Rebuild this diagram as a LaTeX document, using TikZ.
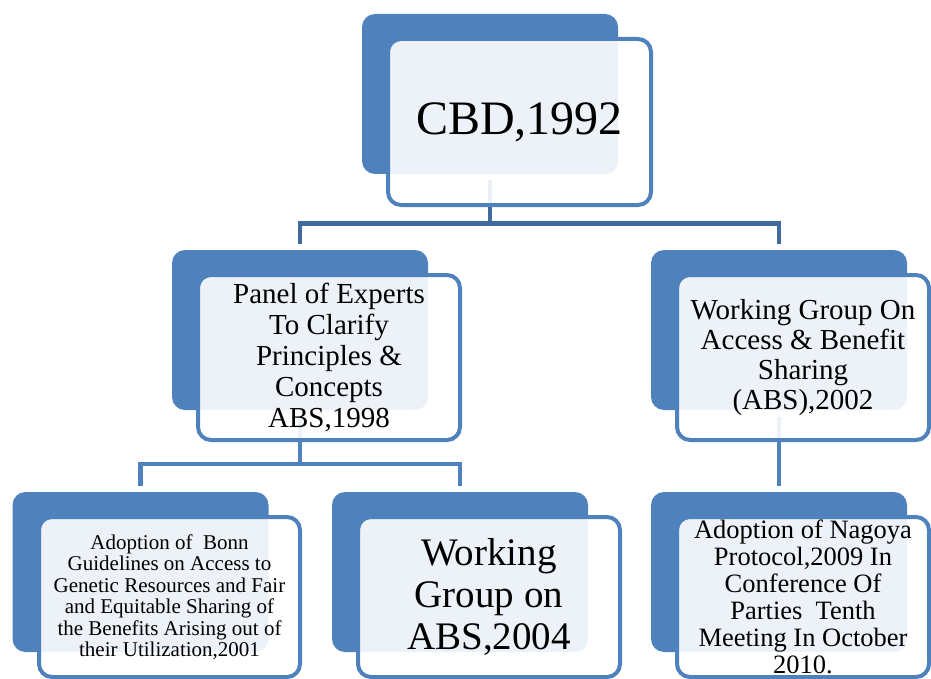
\documentclass[tikz,border=0pt]{standalone}
\usepackage{fontspec}
\setmainfont{Liberation Serif}
\definecolor{boxblue}{RGB}{79,129,189}
\definecolor{linkblue}{RGB}{65,106,157}

\begin{document}
\begin{tikzpicture}[x=1pt, y=-1pt,
        basebox/.style={fill=boxblue, rounded corners=13pt, minimum width=256pt, minimum height=160pt, inner sep=0pt},
        facebox/.style={draw=boxblue, line width=4pt, fill=white, fill opacity=0.9, text opacity=1,
            rounded corners=13pt, inner sep=0pt, align=center},
        link/.style={draw=linkblue, line width=4.5pt},
        sublink/.style={draw=boxblue, line width=4.5pt}]
    \useasboundingbox (0,0) rectangle (931,679);
    \node[basebox] (cbd) at (490,94) {};
    \node[basebox] (panel) at (300,330) {};
    \node[basebox] (wgabs) at (779,330) {};
    \node[basebox] (bonn) at (140.5,572) {};
    \node[basebox] (wgfour) at (460,572) {};
    \node[basebox] (nagoya) at (779,572) {};
    \draw[link] ([yshift=-6pt]cbd.south) -- ([yshift=-49.5pt]cbd.south) -| ([yshift=6pt]panel.north);
    \draw[link] ([yshift=-49.5pt]cbd.south) -| ([yshift=6pt]wgabs.north);
    \draw[sublink] ([yshift=-7pt]panel.south) -- ([yshift=-54pt]panel.south) -| ([yshift=6pt]bonn.north);
    \draw[sublink] ([yshift=-54pt]panel.south) -| ([yshift=6pt]wgfour.north);
    \draw[sublink] ([yshift=-7pt]wgabs.south) -- ([yshift=6pt]nagoya.north);
    \node[facebox, minimum width=263pt, minimum height=166pt, font=\fontsize{48}{52}\selectfont]
        (cbdtext) at (519.5,122) {CBD,1992};
    \node[facebox, minimum width=262pt, minimum height=165pt, font=\fontsize{29}{31}\selectfont]
        (paneltext) at (329,357.5) {Panel of Experts\\To Clarify\\Principles \&\\Concepts\\ABS,1998};
    \node[facebox, minimum width=252pt, minimum height=165pt, font=\fontsize{29}{30}\selectfont]
        (wgabstext) at (803,357.5) {Working Group On\\Access \& Benefit\\Sharing\\(ABS),2002};
    \node[facebox, minimum width=261pt, minimum height=160pt, font=\fontsize{21}{21.5}\selectfont]
        (bonntext) at (169.5,597) {Adoption of \ Bonn\\Guidelines on Access to\\Genetic Resources and Fair\\and Equitable Sharing of\\the Benefits Arising out of\\their Utilization,2001};
    \node[facebox, minimum width=262pt, minimum height=160pt, font=\fontsize{39}{42}\selectfont]
        (wgfourtext) at (489,597) {Working\\Group on\\ABS,2004};
    \node[facebox, minimum width=252pt, minimum height=160pt, font=\fontsize{26.5}{27}\selectfont]
        (nagoyatext) at (803,597) {Adoption of Nagoya\\Protocol,2009 In\\Conference Of\\Parties \ Tenth\\Meeting In October\\2010.};
\end{tikzpicture}
\end{document}
